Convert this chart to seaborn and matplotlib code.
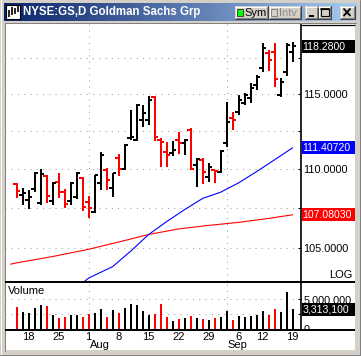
import numpy as np
import pandas as pd
import matplotlib
matplotlib.use("Agg")
import matplotlib.pyplot as plt
from matplotlib.patches import Rectangle
from matplotlib.colors import LinearSegmentedColormap
from matplotlib.ticker import FixedLocator, FixedFormatter, NullLocator
import seaborn as sns

# ---------------- data ----------------
dates = ["2005-07-14", "2005-07-15",
         "2005-07-18", "2005-07-19", "2005-07-20", "2005-07-21", "2005-07-22",
         "2005-07-25", "2005-07-26", "2005-07-27", "2005-07-28", "2005-07-29",
         "2005-08-01", "2005-08-02", "2005-08-03", "2005-08-04", "2005-08-05",
         "2005-08-08", "2005-08-09", "2005-08-10", "2005-08-11", "2005-08-12",
         "2005-08-15", "2005-08-16", "2005-08-17", "2005-08-18", "2005-08-19",
         "2005-08-22", "2005-08-23", "2005-08-24", "2005-08-25", "2005-08-26",
         "2005-08-29", "2005-08-30", "2005-08-31", "2005-09-01", "2005-09-02",
         "2005-09-06", "2005-09-07", "2005-09-08", "2005-09-09",
         "2005-09-12", "2005-09-13", "2005-09-14", "2005-09-15", "2005-09-16",
         "2005-09-19"]

opens = [109.03, 108.34, 108.02, 108.71, 107.81, 109.57, 107.98, 109.16, 108.55, 107.98,
         108.23, 109.46, 107.91, 107.26, 109.11, 109.95, 108.77, 110.74, 110.00, 112.02,
         111.92, 113.25, 113.25, 114.78, 111.92, 111.15, 111.05, 111.92, 111.70, 112.58,
         110.28, 110.61, 109.52, 109.95, 109.84, 111.70, 113.37, 113.81, 114.40, 114.73,
         115.62, 116.77, 117.81, 117.92, 114.94, 116.53, 117.90]
highs = [109.13, 108.77, 108.66, 109.81, 110.00, 109.63, 109.20, 109.74, 108.71, 109.20,
         109.81, 109.48, 108.28, 109.63, 111.13, 110.07, 109.78, 111.00, 111.64, 113.89,
         114.33, 114.26, 114.87, 114.87, 112.03, 111.81, 111.88, 112.47, 111.97, 112.70,
         110.72, 110.72, 110.39, 109.95, 111.26, 114.48, 113.81, 114.94, 115.05, 115.74,
         116.30, 118.50, 118.04, 118.52, 116.08, 118.50, 118.62]
lows = [108.13, 107.70, 107.43, 108.55, 107.70, 107.81, 107.70, 108.13, 107.49, 107.70,
        108.09, 107.34, 106.88, 107.21, 108.66, 108.66, 108.19, 109.57, 109.95, 111.92,
        111.88, 112.80, 112.92, 111.88, 110.13, 110.13, 110.87, 111.00, 110.93, 109.95,
        108.87, 109.05, 109.20, 109.09, 109.74, 111.48, 112.58, 113.59, 114.26, 114.38,
        115.28, 116.53, 116.58, 115.45, 114.80, 116.20, 117.20]
closes = [108.57, 108.49, 108.23, 109.74, 109.68, 108.28, 109.09, 108.51, 107.75, 109.13,
          109.74, 107.58, 107.48, 109.60, 110.93, 109.31, 109.74, 110.00, 111.57, 112.09,
          114.26, 113.70, 114.60, 112.14, 111.81, 110.93, 111.26, 111.72, 111.92, 110.00,
          110.65, 109.81, 110.17, 109.86, 111.20, 113.12, 113.25, 114.60, 114.94, 115.39,
          116.19, 118.15, 117.34, 116.03, 115.85, 118.39, 118.28]
volumes = [3.70, 2.86, 2.69, 3.53, 4.04, 3.87, 2.36, 1.85, 2.02, 2.36,
           2.36, 2.02, 2.53, 2.69, 3.37, 2.02, 3.20, 2.69, 3.53, 4.21,
           4.04, 3.03, 2.36, 2.60, 4.21, 2.02, 1.35, 1.68, 1.85, 2.19,
           1.85, 1.68, 1.52, 1.85, 2.02, 3.03, 1.52, 2.19, 2.02, 2.19,
           2.36, 3.03, 2.36, 3.37, 2.86, 6.23, 3.3131]  # millions

# moving averages read at selected bar indices
blue_ma_idx = [11, 12, 16, 19, 22, 25, 28, 31, 34, 37, 40, 43, 46]
blue_ma_val = [102.85, 103.15, 103.85, 104.80, 105.84, 106.65, 107.41, 108.12, 108.52,
               109.12, 109.85, 110.62, 111.4072]
red_ma_idx = [-1, 0, 6, 12, 17, 22, 27, 32, 37, 42, 46]
red_ma_val = [104.00, 104.08, 104.47, 104.92, 105.37, 105.84, 106.19, 106.41, 106.60,
              106.85, 107.0803]

price_ticks = [105, 107.5, 110, 112.5, 115, 117.5]
price_tick_labels = ["105.0000", "", "110.0000", "", "115.0000", ""]
vol_ticks = [0, 2.5, 5.0]
vol_tick_labels = ["0", "", "5,000,000"]
week_dates = ["2005-07-18", "2005-07-25", "2005-08-01", "2005-08-08", "2005-08-15",
              "2005-08-22", "2005-08-29", "2005-09-06", "2005-09-12", "2005-09-19"]
week_labels = ["18", "25", "1", "8", "15", "22", "29", "6", "12", "19"]
month_dates = ["2005-08-01", "2005-09-01"]
month_labels = ["Aug", "Sep"]
title = "NYSE:GS,D Goldman Sachs Grp"
last_close_label = "118.2800"
blue_label = "111.40720"
red_label = "107.08030"
vol_label = "3,313,100"

# ---------------- style ----------------
sns.set_style("white")
plt.rcParams["font.family"] = ["Liberation Sans", "DejaVu Sans"]
plt.rcParams["font.size"] = 8

W, H = 361, 356
fig = plt.figure(figsize=(W / 100, H / 100), dpi=100)
fig.patch.set_facecolor("#D4D0C8")

def fr(x0, y0, x1, y1):
    return [x0 / W, (H - y1) / H, (x1 - x0) / W, (y1 - y0) / H]

bg = fig.add_axes([0, 0, 1, 1], zorder=0)
bg.set_xlim(0, W); bg.set_ylim(H, 0); bg.axis("off")
fg = fig.add_axes([0, 0, 1, 1], zorder=5)
fg.set_xlim(0, W); fg.set_ylim(H, 0); fg.axis("off")

# window frame and client area
bg.add_patch(Rectangle((5, 23.5), 350, 326.5, facecolor="white", edgecolor="none"))
bg.plot([4.5, 4.5], [23, 350.5], color="#808080", lw=0.72)
bg.plot([4.5, 355.5], [23, 23], color="#808080", lw=0.72)
bg.plot([0.5, 0.5], [0, 356], color="white", lw=0.72)
bg.plot([359.5, 359.5], [0, 356], color="#808080", lw=0.72)
bg.plot([360.5, 360.5], [0, 356], color="#404040", lw=0.72)
bg.plot([0, 361], [354.5, 354.5], color="#808080", lw=0.72)
bg.plot([0, 361], [355.5, 355.5], color="#404040", lw=0.72)

# title bar gradient
cmap = LinearSegmentedColormap.from_list("tb", ["#0A246A", "#A6CAF0"])
grad = np.linspace(0, 1, 256).reshape(1, -1)
bg.imshow(grad, extent=[4, 357, 21, 3], aspect="auto", cmap=cmap, zorder=1)
bg.set_xlim(0, W); bg.set_ylim(H, 0)
# icon
bg.add_patch(Rectangle((6, 5), 14, 14, facecolor="white", edgecolor="black", lw=0.8, zorder=2))
for xx, y0, y1 in [(9, 10, 17), (12, 7, 15), (15, 8, 14), (17.5, 6, 12)]:
    bg.plot([xx, xx], [y0, y1], color="black", lw=1.2, zorder=3, solid_capstyle="butt")
bg.text(23, 12.5, title, color="white", fontweight="bold", fontsize=8.3,
        va="center", ha="left", zorder=3)

def button(x0, y0, x1, y1):
    bg.add_patch(Rectangle((x0, y0), x1 - x0, y1 - y0, facecolor="#D4D0C8",
                           edgecolor="none", zorder=2))
    bg.plot([x0, x1], [y0 + 0.5, y0 + 0.5], color="white", lw=0.72, zorder=3)
    bg.plot([x0 + 0.5, x0 + 0.5], [y0, y1], color="white", lw=0.72, zorder=3)
    bg.plot([x0, x1], [y1 - 0.5, y1 - 0.5], color="#404040", lw=0.72, zorder=3)
    bg.plot([x1 - 0.5, x1 - 0.5], [y0, y1], color="#404040", lw=0.72, zorder=3)
    bg.plot([x0 + 1, x1 - 1], [y1 - 1.5, y1 - 1.5], color="#808080", lw=0.72, zorder=3)
    bg.plot([x1 - 1.5, x1 - 1.5], [y0 + 1, y1 - 1], color="#808080", lw=0.72, zorder=3)

button(235, 6, 268, 19)
bg.add_patch(Rectangle((237, 8.5), 6, 7, facecolor="#00FF00", edgecolor="#404040", lw=0.7, zorder=4))
bg.text(244.5, 12.8, "Sym", color="black", fontsize=8, va="center", ha="left", zorder=4)
button(269, 6, 301, 19)
bg.add_patch(Rectangle((271, 8.5), 6, 7, facecolor="#D4D0C8", edgecolor="#808080", lw=0.7, zorder=4))
bg.text(279.5, 13.3, "Intv", color="white", fontsize=8, va="center", ha="left", zorder=4)
bg.text(278.8, 12.6, "Intv", color="#808080", fontsize=8, va="center", ha="left", zorder=4)
button(305, 6, 318, 19)
bg.plot([308.5, 313.5], [15.5, 15.5], color="black", lw=1.4, zorder=4, solid_capstyle="butt")
button(318, 6, 331, 19)
bg.add_patch(Rectangle((320.5, 8.5), 8, 7, facecolor="none", edgecolor="black", lw=0.8, zorder=4))
bg.plot([320.5, 328.5], [9.2, 9.2], color="black", lw=1.2, zorder=4)
button(340, 6, 355, 19)
bg.plot([344, 350], [9, 15.5], color="black", lw=1.3, zorder=4)
bg.plot([344, 350], [15.5, 9], color="black", lw=1.3, zorder=4)

# ---------------- chart axes ----------------
n = len(dates)
xi = np.arange(n)
o = np.array(opens); h = np.array(highs); l = np.array(lows); c = np.array(closes)
colors = np.where(c >= o, "black", "#FF0000")

XL = (-1.944, 47.39)
ax = fig.add_axes(fr(5, 24, 301, 281), zorder=2)
axv = fig.add_axes(fr(5, 282, 301, 329), zorder=2)
for a in (ax, axv):
    a.patch.set_alpha(0)
    for s in a.spines.values():
        s.set_visible(False)
    a.set_xlim(*XL)

ax.set_yscale("log")
ax.set_ylim(102.97, 119.86)

grid_kw = dict(color="#A0A0A0", lw=0.75, linestyle=(0, (1, 5)))
pos = {d: i for i, d in enumerate(dates)}
def xpos(d):
    if d in pos:
        return pos[d]
    later = [i for dd, i in pos.items() if dd > d]
    return min(later) - 0.0
month_x = [xpos(d) for d in month_dates]
for a in (ax, axv):
    a.set_xticks(month_x)
    a.tick_params(axis="x", length=0, labelbottom=False)
    a.xaxis.grid(True, **grid_kw)

ax.yaxis.set_major_locator(FixedLocator(price_ticks))
ax.yaxis.set_major_formatter(FixedFormatter(price_tick_labels))
ax.yaxis.set_minor_locator(NullLocator())
ax.yaxis.tick_right()
ax.tick_params(axis="y", direction="in", length=2.2, width=0.75, pad=1.8,
               labelsize=7.8, colors="black")
ax.yaxis.grid(True, **grid_kw)

# OHLC bars
ax.vlines(xi, l, h, colors=colors, lw=1.44, antialiased=False)
ax.hlines(o, xi - 0.55, xi, colors=colors, lw=1.44, antialiased=False)
ax.hlines(c, xi, xi + 0.55, colors=colors, lw=1.44, antialiased=False)

# moving averages
sns.lineplot(x=red_ma_idx, y=red_ma_val, ax=ax, color="#FF0000", lw=0.8,
             estimator=None, sort=False)
sns.lineplot(x=blue_ma_idx, y=blue_ma_val, ax=ax, color="#0000FF", lw=0.8,
             estimator=None, sort=False)
ax.set_xlim(*XL); ax.set_ylim(102.97, 119.86)
ax.set_xlabel(""); ax.set_ylabel("")

# volume
vdf = pd.DataFrame({"i": xi, "vol": volumes, "dir": np.where(c >= o, "up", "down")})
axv.bar(vdf["i"], vdf["vol"], width=0.34, color=colors, linewidth=0)
axv.set_ylim(0, 7.91)
axv.set_xlim(*XL)
axv.yaxis.set_major_locator(FixedLocator(vol_ticks))
axv.yaxis.set_major_formatter(FixedFormatter(vol_tick_labels))
axv.yaxis.tick_right()
axv.tick_params(axis="y", direction="in", length=2.2, width=0.75, pad=1.8,
                labelsize=7.8, colors="black")
axv.yaxis.grid(True, **grid_kw)
axv.set_xlabel(""); axv.set_ylabel("")

# ---------------- overlay lines and labels ----------------
def to_px(a, xv, yv):
    dx, dy = a.transData.transform((xv, yv))
    return dx, H - dy

fg.plot([5, 355], [281.5, 281.5], color="black", lw=1.44, solid_capstyle="butt")
fg.plot([5, 355], [329.5, 329.5], color="black", lw=1.44, solid_capstyle="butt")
fg.plot([300.8, 300.8], [24, 330], color="black", lw=1.2, solid_capstyle="butt")
fg.plot([300.8, 355], [24.5, 24.5], color="black", lw=0.9, solid_capstyle="butt")
# hide lower half of the volume "0" label as in the reference
fg.add_patch(Rectangle((302, 330.3), 53, 6, facecolor="white", edgecolor="none"))

def value_box(yv, text, face, a):
    _, py = to_px(a, 0, yv)
    fg.add_patch(Rectangle((301.5, py - 6.3), 53.5, 12.6, facecolor=face, edgecolor="none"))
    fg.text(302.5, py + 0.3, text, color="white", fontsize=7.6, ha="left", va="center")

value_box(closes[-1], last_close_label, "black", ax)
value_box(blue_ma_val[-1], blue_label, "#0000FF", ax)
value_box(red_ma_val[-1], red_label, "#FF0000", ax)
value_box(volumes[-1], vol_label, "black", axv)

fg.text(353, 275, "LOG", fontsize=8, ha="right", va="center", color="black")
fg.text(7.5, 291.5, "Volume", fontsize=8, ha="left", va="center", color="black")

for d, lab in zip(week_dates, week_labels):
    px, _ = to_px(axv, xpos(d), 0)
    fg.text(px, 337, lab, fontsize=8, ha="center", va="center", color="black")
for d, lab in zip(month_dates, month_labels):
    px, _ = to_px(axv, xpos(d), 0)
    fg.text(px + 1, 345.5, lab, fontsize=8, ha="left", va="center", color="black")

fig.savefig("out.png", dpi=100, facecolor=fig.get_facecolor())
